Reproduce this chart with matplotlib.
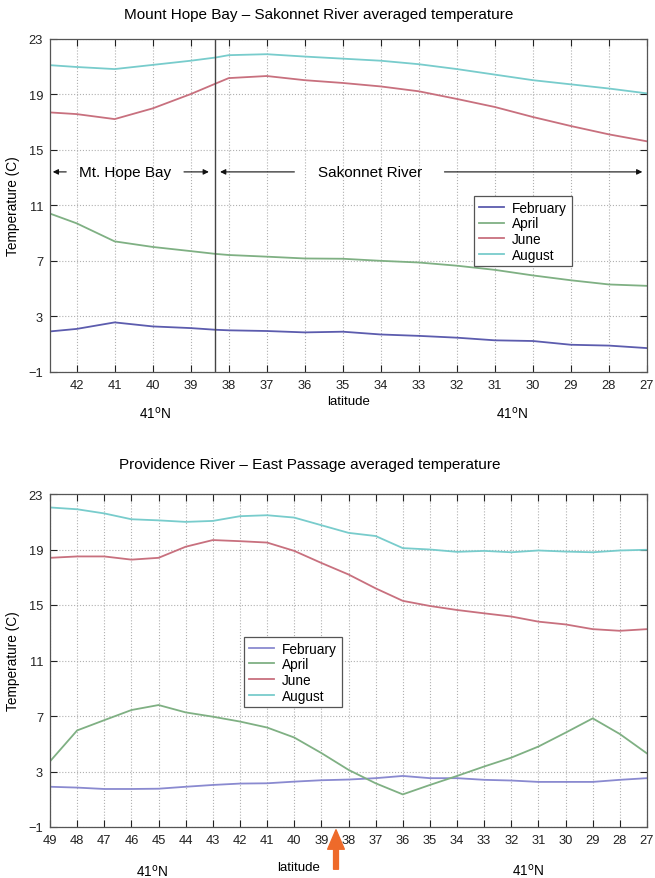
import matplotlib
matplotlib.use("Agg")
import matplotlib.pyplot as plt
import numpy as np

plt.rcParams['font.family'] = ['Liberation Sans', 'DejaVu Sans']

months = ["February", "April", "June", "August"]
colors = ["#5c5cae", "#7fb083", "#c8707e", "#78cccc"]

# --- Mount Hope Bay - Sakonnet River ---
lat_top = [42.7, 42, 41, 40, 39, 38.35, 38, 37, 36, 35, 34, 33, 32, 31, 30, 29, 28, 27]
feb_top = [1.92, 2.1, 2.57, 2.28, 2.16, 2.04, 2.0, 1.95, 1.85, 1.9, 1.7, 1.6, 1.47, 1.28, 1.23, 0.96, 0.9, 0.72]
apr_top = [10.4, 9.7, 8.4, 8.0, 7.7, 7.5, 7.42, 7.3, 7.17, 7.15, 7.0, 6.88, 6.65, 6.35, 5.95, 5.6, 5.3, 5.2]
jun_top = [17.68, 17.56, 17.2, 17.97, 19.0, 19.75, 20.15, 20.3, 20.0, 19.8, 19.55, 19.2, 18.65, 18.07, 17.35, 16.7, 16.1, 15.6]
aug_top = [21.08, 20.95, 20.8, 21.1, 21.4, 21.63, 21.8, 21.87, 21.7, 21.55, 21.4, 21.15, 20.8, 20.4, 20.0, 19.7, 19.4, 19.05]

# --- Providence River - East Passage ---
lat_bot = list(range(49, 26, -1))
feb_bot = [1.9, 1.84, 1.74, 1.74, 1.76, 1.9, 2.03, 2.13, 2.15, 2.27, 2.37, 2.42, 2.52, 2.68, 2.52, 2.52, 2.4, 2.35, 2.25, 2.25, 2.25, 2.4, 2.52]
apr_bot = [3.73, 5.96, 6.7, 7.43, 7.79, 7.26, 6.95, 6.6, 6.17, 5.45, 4.33, 3.12, 2.15, 1.35, 2.03, 2.68, 3.36, 4.0, 4.8, 5.8, 6.83, 5.7, 4.3]
jun_bot = [18.4, 18.5, 18.5, 18.27, 18.4, 19.2, 19.68, 19.6, 19.5, 18.9, 18.03, 17.2, 16.2, 15.3, 14.93, 14.64, 14.4, 14.17, 13.8, 13.6, 13.26, 13.14, 13.26]
aug_bot = [22.03, 21.9, 21.6, 21.18, 21.1, 20.99, 21.06, 21.4, 21.47, 21.3, 20.75, 20.2, 19.97, 19.1, 19.0, 18.83, 18.9, 18.8, 18.93, 18.85, 18.8, 18.93, 18.98]

yticks = [-1, 3, 7, 11, 15, 19, 23]
xticks_top = list(range(42, 26, -1))
xticks_bot = list(range(49, 26, -1))

W, H = 655, 879
fig = plt.figure(figsize=(W / 100, H / 100), dpi=100)

def frac(l, t, r, b):
    return [l / W, 1 - b / H, (r - l) / W, (b - t) / H]

ax1 = fig.add_axes(frac(50, 39.5, 647, 373))
ax2 = fig.add_axes(frac(50, 495, 647, 828))

def style(ax, xticks, xlim):
    ax.set_xlim(*xlim)
    ax.set_ylim(-1, 23)
    ax.set_xticks(xticks)
    ax.set_yticks(yticks)
    ax.grid(True, color="#b0b0b0", linestyle=":", linewidth=0.8)
    ax.tick_params(direction="in", top=True, right=True, length=5, labelsize=9.3, colors="#222222", pad=5)
    for s in ax.spines.values():
        s.set_color("#555555")
        s.set_linewidth(0.9)
    ax.set_ylabel("Temperature (C)", fontsize=9.8, labelpad=6)

def legend(ax, x, y):
    leg = ax.legend(loc="upper left", bbox_to_anchor=(x, y), fontsize=9.8,
                    handlelength=1.85, handletextpad=0.6, labelspacing=0.12,
                    borderpad=0.35, borderaxespad=0, fancybox=False,
                    framealpha=1, edgecolor="#555555")
    leg.get_frame().set_linewidth(0.9)

def ftext(x, y, s, size=9.8):
    fig.text(x / W, 1 - y / H, s, ha="center", va="center", fontsize=size)

series_top = [feb_top, apr_top, jun_top, aug_top]
for vals, c, m in zip(series_top, colors, months):
    ax1.plot(lat_top, vals, color=c, lw=1.3, label=m)
style(ax1, xticks_top, (42.7, 27))
ax1.axvline(38.35, color="#444444", lw=1.0)
ax1.set_xlabel("latitude", fontsize=9.5, labelpad=3)

ap = dict(arrowstyle="-|>", color="#111111", lw=0.8, mutation_scale=8)
ya = 13.4
ax1.annotate("", xy=(42.7, ya), xytext=(42.2, ya), arrowprops=ap)
ax1.annotate("", xy=(38.45, ya), xytext=(39.25, ya), arrowprops=ap)
ax1.annotate("", xy=(38.3, ya), xytext=(36.2, ya), arrowprops=ap)
ax1.annotate("", xy=(27.05, ya), xytext=(32.4, ya), arrowprops=ap)
ax1.text(40.72, ya, "Mt. Hope Bay", ha="center", va="center", fontsize=11)
ax1.text(34.28, ya, "Sakonnet River", ha="center", va="center", fontsize=11)
legend(ax1, 0.71, 0.528)

series_bot = [feb_bot, apr_bot, jun_bot, aug_bot]
colors_bot = ["#8a8ad0", "#7fb083", "#c8707e", "#78cccc"]
for vals, c, m in zip(series_bot, colors_bot, months):
    ax2.plot(lat_bot, vals, color=c, lw=1.3, label=m)
style(ax2, xticks_bot, (49, 27))
legend(ax2, 0.325, 0.571)

# titles (off-centre as in the reference)
ftext(319, 15, "Mount Hope Bay \u2013 Sakonnet River averaged temperature", size=11)
ftext(310, 465, "Providence River \u2013 East Passage averaged temperature", size=11)

ftext(155, 414, "41$^{\\rm o}$N")
ftext(512, 414, "41$^{\\rm o}$N")
ftext(152, 872, "41$^{\\rm o}$N")
ftext(528, 871, "41$^{\\rm o}$N")
ftext(299, 868, "latitude", size=9.5)

# orange arrow under bottom axis
fig.patches.append(matplotlib.patches.FancyArrowPatch(
    (336 / W, 1 - 873 / H), (336 / W, 1 - 828 / H), transform=fig.transFigure,
    arrowstyle="simple,head_length=1.4,head_width=1.2,tail_width=0.35",
    mutation_scale=10, color="#ee6a2a"))

fig.savefig("out.png", dpi=100)
